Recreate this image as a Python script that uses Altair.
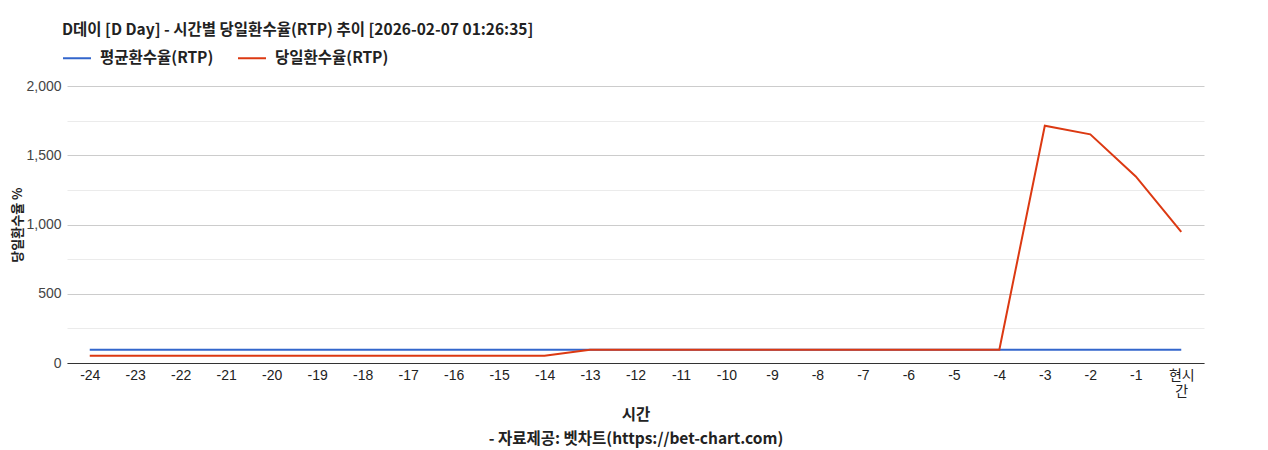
import altair as alt
import pandas as pd

hours = ["-24", "-23", "-22", "-21", "-20", "-19", "-18", "-17", "-16", "-15",
         "-14", "-13", "-12", "-11", "-10", "-9", "-8", "-7", "-6", "-5",
         "-4", "-3", "-2", "-1", "현시간"]
avg_rtp = [95] * 25
day_rtp = [52, 52, 52, 52, 52, 52, 52, 52, 52, 52,
           52, 96, 96, 96, 96, 96, 96, 96, 96, 96,
           96, 1713, 1651, 1347, 946]
series_names = ["평균환수율(RTP)", "당일환수율(RTP)"]
series_colors = ["#3366cc", "#dc3912"]
y_ticks = [0, 250, 500, 750, 1000, 1250, 1500, 1750, 2000]

rows = []
for i, h in enumerate(hours):
    rows.append({"시간": h, "series": series_names[0], "value": avg_rtp[i], "order": 0})
for i, h in enumerate(hours):
    rows.append({"시간": h, "series": series_names[1], "value": day_rtp[i], "order": 1})
df = pd.DataFrame(rows)

LABEL_FONT = "Liberation Sans, Noto Sans CJK KR"
BOLD_FONT = "Noto Sans CJK KR"

chart = alt.Chart(df).mark_line(strokeWidth=2).encode(
    x=alt.X("시간:N", sort=hours,
            scale=alt.Scale(paddingInner=1, paddingOuter=0.5),
            axis=alt.Axis(
                title=["시간", "- 자료제공: 벳차트(https://bet-chart.com)"],
                titleFont=BOLD_FONT, titleFontSize=15.5, titleFontWeight="bold",
                titleColor="#222", titleLineHeight=24, titlePadding=9,
                labelAngle=0, labelFont=LABEL_FONT, labelFontSize=14,
                labelColor="#222", labelPadding=5,
                labelExpr="datum.value == '현시간' ? ['현시', '간'] : datum.label",
                ticks=False, domainColor="#333", domainWidth=1, grid=False)),
    y=alt.Y("value:Q", scale=alt.Scale(domain=[0, 2000], nice=False),
            axis=alt.Axis(
                title="당일환수율 %", titleFont=BOLD_FONT, titleFontSize=13,
                titleFontWeight="bold", titleColor="#222", titlePadding=1,
                values=y_ticks, format=",.0f",
                labelExpr="datum.value % 500 === 0 ? datum.label : ''",
                labelFont=LABEL_FONT, labelFontSize=14, labelColor="#444",
                labelPadding=6, ticks=False, domain=False,
                gridColor=alt.condition("datum.value % 500 === 0",
                                        alt.value("#cccccc"), alt.value("#ebebeb")))),
    color=alt.Color("series:N", sort=series_names,
                    scale=alt.Scale(domain=series_names, range=series_colors),
                    legend=alt.Legend(
                        title=None, orient="none", legendX=-5, legendY=-43,
                        direction="horizontal", symbolType="stroke",
                        symbolSize=784, symbolStrokeWidth=2, labelOffset=8,
                        labelFont=BOLD_FONT, labelFontSize=15.5,
                        labelFontWeight="bold", labelColor="#222",
                        columnPadding=20)),
    order=alt.Order("order:Q"),
).properties(
    width=1137, height=277,
    title=alt.TitleParams(
        "D데이 [D Day] - 시간별 당일환수율(RTP) 추이 [2026-02-07 01:26:35]",
        anchor="start", frame="group", font=BOLD_FONT, fontSize=15.5,
        fontWeight="bold", color="#222", dx=-5, offset=5),
    autosize=alt.AutoSizeParams(type="none"),
    padding={"left": 59, "top": 78, "right": 56, "bottom": 87},
).configure_view(stroke=None)

chart.save("out.html", embed_options={"renderer": "svg", "actions": False})
